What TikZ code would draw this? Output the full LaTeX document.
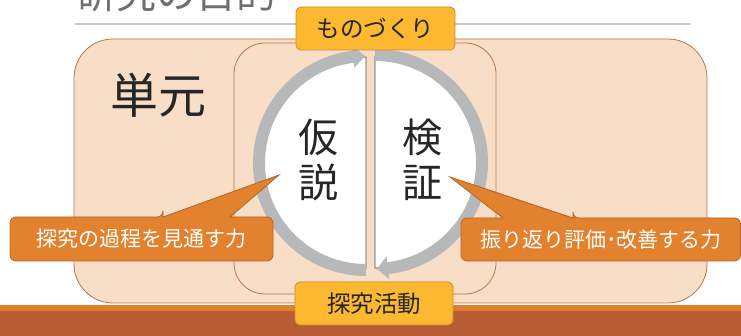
\documentclass[tikz,border=0pt]{standalone}
\usepackage{fontspec}
\setmainfont{Noto Sans CJK JP}
\usetikzlibrary{calc}
\definecolor{peach}{HTML}{F8DEC7}
\definecolor{peachline}{HTML}{B5774B}
\definecolor{callfill}{HTML}{E2812E}
\definecolor{callline}{HTML}{B0662C}
\definecolor{yfill}{HTML}{FDB831}
\definecolor{yline}{HTML}{C98C2C}
\definecolor{ringgray}{HTML}{B6B8BA}
\definecolor{bandorange}{HTML}{E2802E}
\definecolor{bandbrown}{HTML}{B95C36}
\definecolor{titlegray}{HTML}{6E6E6E}
\definecolor{rulegray}{HTML}{C6C6C6}
\definecolor{ink}{HTML}{262626}
\definecolor{edgegray}{HTML}{4A4A4A}
\tikzset{
  panel/.style={fill=peach, draw=peachline, line width=0.8pt},
  ringarc/.style={draw=ringgray, line width=12pt},
  half/.style={fill=white, draw=edgegray, line width=0.9pt},
  callshape/.style={fill=callfill, draw=callline, line width=0.8pt},
  calltext/.style={text=white, font=\fontsize{21}{22}\selectfont, inner sep=0pt},
  ybox/.style={fill=yfill, draw=yline, line width=0.8pt, rounded corners=5pt, text=ink, font=\fontsize{23.5}{24}\selectfont},
  bigchar/.style={text=ink, align=center, inner sep=0pt}
}
\begin{document}
\begin{tikzpicture}[x=1pt,y=-1pt]
\useasboundingbox (0,0) rectangle (741,336);
\clip (0,0) rectangle (741,336);
% title and rule
\node[anchor=base west, font=\fontsize{40}{40}\selectfont, text=titlegray, inner sep=0pt] (title) at (76,9) {研究の目的};
\draw[rulegray, line width=1.5pt] (75,24) -- (690,24);
% bottom band
\fill[bandorange] (0,305) rectangle (741,311);
\fill[bandbrown] (0,311) rectangle (741,336);
% panels
\draw[panel, rounded corners=39pt] (74,39) rectangle (707,303);
\draw[panel, rounded corners=31pt] (234,43) rectangle (496,294);
\node[bigchar, font=\fontsize{48}{48}\selectfont] (unit) at (158,95) {単元};
% circle halves
\coordinate (C1) at (366,163);
\coordinate (C2) at (375,162);
\draw[half] (366,57) arc[start angle=270, end angle=90, radius=106] -- cycle;
\draw[half] (375,56) arc[start angle=270, end angle=450, radius=106] -- cycle;
% ring arcs with arrowheads
\draw[ringarc] ($(C1)+(90:107)$) arc[start angle=90, end angle=264, radius=107];
\fill[ringgray] ($(C1)+(263:96)$) -- ($(C1)+(263:119)$) -- ($(C1)+(269.5:107)$) -- cycle;
\draw[ringarc] ($(C2)+(270:107)$) arc[start angle=270, end angle=444, radius=107];
\fill[ringgray] ($(C2)+(443:95)$) -- ($(C2)+(443:118)$) -- ($(C2)+(449:107)$) -- cycle;
\node[bigchar, font=\fontsize{40}{45}\selectfont] (hyp) at (318,160) {仮\\説};
\node[bigchar, font=\fontsize{40}{45}\selectfont] (ver) at (422,160) {検\\証};
% left callout
\draw[callshape] (163,217) -- (279,175) -- (230,217) [rounded corners=6pt] -- (273,217) -- (273,261) -- (10,261) -- (10,217) -- (163,217) [sharp corners] -- cycle;
\node[calltext] (lcall) at (141,239) {探究の過程を見通す力};
% right callout
\draw[callshape] (573,218) -- (450,177) -- (503,218) [rounded corners=6pt] -- (461,218) -- (461,261) -- (740.5,261) -- (740.5,218) -- (573,218) [sharp corners] -- cycle;
\node[calltext] (rcall) at (601,240) {振り返り評価･改善する力};
% top and bottom boxes
\node[ybox, minimum width=159pt, minimum height=43pt] (make) at (375.5,28.5) {ものづくり};
\node[ybox, minimum width=158pt, minimum height=43pt] (inq) at (374,303.5) {探究活動};
\end{tikzpicture}
\end{document}
